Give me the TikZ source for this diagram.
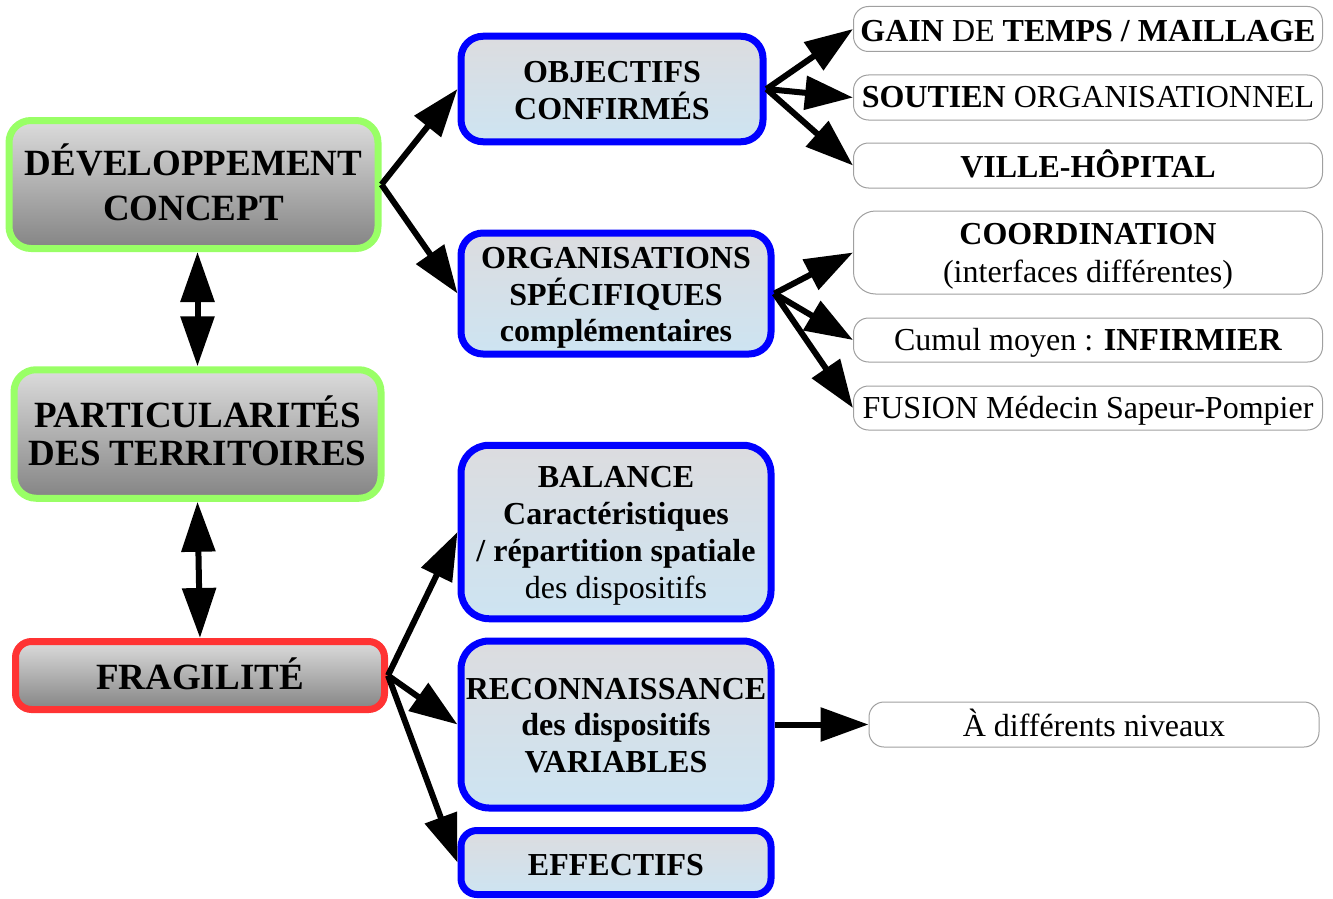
\documentclass[tikz,border=0pt]{standalone}
\usepackage{fontspec}
\setmainfont{Liberation Serif}
\usetikzlibrary{arrows.meta,calc}
\definecolor{grayA}{HTML}{DCDCDC}
\definecolor{grayB}{HTML}{848484}
\definecolor{bgtop}{HTML}{DCDCDF}
\definecolor{bgbot}{HTML}{CDE4F2}
\definecolor{lgreen}{HTML}{99FF66}
\definecolor{lred}{HTML}{FF3333}
\definecolor{pureblue}{HTML}{0000FF}
\definecolor{boxgray}{HTML}{A0A0A0}
% shift a line of text vertically without changing its box
\newcommand\mvline[2]{\raisebox{#1}[\height][\depth]{#2}}
\tikzset{
  basebox/.style={rounded corners=22pt, line width=7pt, inner sep=0pt, align=center},
  leftbox/.style={basebox, top color=grayA, bottom color=grayB, font=\fontsize{37}{38}\selectfont\bfseries},
  greenbox/.style={leftbox, draw=lgreen},
  redbox/.style={leftbox, draw=lred},
  bluebox/.style={basebox, draw=pureblue, top color=bgtop, bottom color=bgbot, font=\fontsize{32}{36.8}\selectfont\bfseries},
  whitebox/.style={draw=boxgray, line width=1pt, rounded corners=15pt, fill=white, inner sep=0pt, align=center, font=\fontsize{32}{38}\selectfont},
  arr/.style={line width=6pt, -{Triangle[length=48pt,width=33pt]}},
  darr/.style={line width=6pt, {Triangle[length=50pt,width=33pt]}-{Triangle[length=50pt,width=33pt]}},
}
\begin{document}
\begin{tikzpicture}[x=1pt,y=-1pt]
\useasboundingbox (0,0) rectangle (1333,899);
% left column
\node[greenbox, minimum width=369pt, minimum height=128pt] (dev) at (193.5,184.5) {\mvline{2pt}{DÉVELOPPEMENT}\\[7pt]\mvline{2pt}{CONCEPT}};
\node[greenbox, minimum width=367pt, minimum height=128.5pt] (part) at (197.5,434) {\mvline{3pt}{PARTICULARITÉS}\\\mvline{3pt}{DES TERRITOIRES}};
\node[redbox, minimum width=369pt, minimum height=68pt, rounded corners=16pt] (frag) at (200,675.5) {\mvline{2pt}{FRAGILITÉ}};
% blue column
\node[bluebox, minimum width=302pt, minimum height=105.5pt] (obj) at (612,89) {\mvline{-1.5pt}{OBJECTIFS}\\\mvline{-1.5pt}{CONFIRMÉS}};
\node[bluebox, minimum width=310pt, minimum height=121pt] (org) at (616,293.5) {\mvline{-4.5pt}{ORGANISATIONS}\\\mvline{-4.5pt}{SPÉCIFIQUES}\\\mvline{-4.5pt}{complémentaires}};
\node[bluebox, minimum width=310pt, minimum height=173.5pt, rounded corners=28pt] (bal) at (616,532) {\mvline{-4pt}{BALANCE}\\\mvline{-4pt}{Caractéristiques}\\\mvline{-4pt}{/ répartition spatiale}\\\mvline{-4pt}{\mdseries des dispositifs}};
\node[bluebox, minimum width=310pt, minimum height=167pt, rounded corners=28pt] (rec) at (616,724.5) {\mvline{-1pt}{RECONNAISSANCE}\\\mvline{-1pt}{des dispositifs}\\\mvline{-1pt}{VARIABLES}};
\node[bluebox, minimum width=310pt, minimum height=64pt, rounded corners=16pt] (eff) at (616,862.5) {\mvline{-3pt}{EFFECTIFS}};
% right column
\node[whitebox, minimum width=469pt, minimum height=45pt] (gain) at (1088,29) {\mvline{-2pt}{\textbf{GAIN} DE \textbf{TEMPS / MAILLAGE}}};
\node[whitebox, minimum width=469pt, minimum height=45pt] (sout) at (1088,97.5) {\textbf{SOUTIEN} ORGANISATIONNEL};
\node[whitebox, minimum width=469pt, minimum height=45pt] (ville) at (1088,165.5) {\mvline{1.5pt}{\textbf{VILLE-HÔPITAL}}};
\node[whitebox, minimum width=469pt, minimum height=83pt, rounded corners=22pt] (coord) at (1088,252.5) {\mvline{-4pt}{\textbf{COORDINATION}}\\\mvline{-4pt}{(interfaces différentes)}};
\node[whitebox, minimum width=469pt, minimum height=44pt] (cumul) at (1088,340) {\mvline{-3pt}{Cumul moyen : \textbf{INFIRMIER}}};
\node[whitebox, minimum width=469pt, minimum height=44pt] (fusion) at (1088,408) {\mvline{-3pt}{FUSION Médecin Sapeur-Pompier}};
\node[whitebox, minimum width=450pt, minimum height=45pt] (adiff) at (1094,724.5) {\mvline{2pt}{À différents niveaux}};
% connectors
\draw[arr] (dev.east) -- (obj.west);
\draw[arr] (dev.east) -- (org.west);
\draw[arr] (obj.east) -- (gain.west);
\draw[arr] (obj.east) -- (sout.west);
\draw[arr] (obj.east) -- (ville.west);
\draw[arr] (org.east) -- (coord.west);
\draw[arr] (org.east) -- (cumul.west);
\draw[arr] (org.east) -- (fusion.west);
\draw[arr] (frag.east) -- (bal.west);
\draw[arr] (frag.east) -- (rec.west);
\draw[arr] (frag.east) -- (eff.west);
\draw[arr] (rec.east) -- (adiff.west);
\draw[darr] (part.north |- dev.south) -- (part.north);
\draw[darr] (part.south) -- (frag.north);
\end{tikzpicture}
\end{document}
